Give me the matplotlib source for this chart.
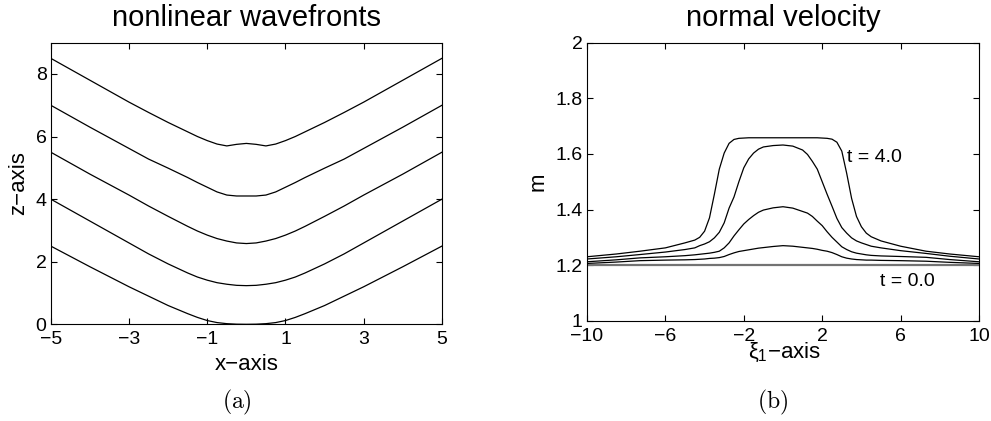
import matplotlib
matplotlib.use("Agg")
import matplotlib.pyplot as plt

plt.rcParams.update({
    "font.family": ["Liberation Sans", "DejaVu Sans"],
    "font.size": 14,
    "mathtext.fontset": "custom",
    "mathtext.rm": "Liberation Sans",
    "mathtext.it": "Liberation Sans",
    "axes.linewidth": 0.8,
    "xtick.direction": "in",
    "ytick.direction": "in",
    "xtick.top": True,
    "ytick.right": True,
    "xtick.major.size": 4,
    "ytick.major.size": 4,
    "xtick.major.width": 0.8,
    "ytick.major.width": 0.8,
})

# ---------- (a) nonlinear wavefronts ----------
x_front = [-5, -4, -3, -2.5, -2, -1.5, -1.25, -1, -0.75, -0.5, -0.25, 0,
           0.25, 0.5, 0.75, 1, 1.25, 1.5, 2, 2.5, 3, 4, 5]
front_1 = [2.5, 1.84, 1.2, 0.9, 0.6, 0.34, 0.22, 0.12, 0.055, 0.02, 0.004, 0.0,
           0.004, 0.02, 0.055, 0.12, 0.22, 0.34, 0.6, 0.9, 1.2, 1.84, 2.5]
front_2 = [4.0, 3.3, 2.6, 2.25, 1.93, 1.64, 1.51, 1.41, 1.33, 1.28, 1.245, 1.235,
           1.245, 1.28, 1.33, 1.41, 1.51, 1.64, 1.93, 2.25, 2.6, 3.3, 4.0]
front_3 = [5.5, 4.8, 4.13, 3.78, 3.45, 3.13, 2.98, 2.85, 2.74, 2.66, 2.6, 2.58,
           2.6, 2.66, 2.74, 2.85, 2.98, 3.13, 3.45, 3.78, 4.13, 4.8, 5.5]
front_4 = [7.0, 6.3, 5.62, 5.28, 4.99, 4.69, 4.53, 4.38, 4.23, 4.13, 4.1, 4.1,
           4.1, 4.13, 4.23, 4.38, 4.53, 4.69, 4.99, 5.28, 5.62, 6.3, 7.0]
front_5 = [8.5, 7.8, 7.1, 6.77, 6.45, 6.15, 6.0, 5.87, 5.76, 5.70, 5.75, 5.78,
           5.75, 5.70, 5.76, 5.87, 6.0, 6.15, 6.45, 6.77, 7.1, 7.8, 8.5]
fronts = [front_1, front_2, front_3, front_4, front_5]

# ---------- (b) normal velocity ----------
xi = [-10, -8.5, -7.3, -6, -5, -4.5, -4.25, -4, -3.75, -3.5, -3.25, -3,
      -2.75, -2.5, -2.25, -2, -1.75, -1.5, -1.25, -1, -0.5, 0, 0.5, 1,
      1.25, 1.5, 1.75, 2, 2.25, 2.5, 2.75, 3, 3.25, 3.5, 3.75, 4, 4.25,
      4.5, 5, 6, 7.3, 8.5, 10]
m_t0 = [1.2] * len(xi)
m_t1 = [1.206, 1.211, 1.216, 1.218, 1.219, 1.22, 1.221, 1.222, 1.224, 1.225,
        1.227, 1.231, 1.238, 1.244, 1.249, 1.252, 1.255, 1.258, 1.261, 1.263,
        1.267, 1.27, 1.268, 1.264, 1.262, 1.26, 1.257, 1.253, 1.25, 1.245,
        1.238, 1.23, 1.225, 1.222, 1.22, 1.219, 1.218, 1.218, 1.217, 1.216,
        1.214, 1.21, 1.206]
m_t2 = [1.212, 1.219, 1.226, 1.23, 1.234, 1.237, 1.239, 1.241, 1.243, 1.246,
        1.25, 1.262, 1.28, 1.305, 1.327, 1.348, 1.364, 1.378, 1.39, 1.398,
        1.406, 1.41, 1.405, 1.393, 1.387, 1.375, 1.358, 1.342, 1.32, 1.3,
        1.283, 1.266, 1.256, 1.248, 1.243, 1.24, 1.237, 1.235, 1.233, 1.231,
        1.228, 1.22, 1.212]
m_t3 = [1.222, 1.23, 1.238, 1.247, 1.256, 1.262, 1.27, 1.276, 1.284, 1.298,
        1.318, 1.352, 1.405, 1.445, 1.5, 1.55, 1.582, 1.603, 1.617, 1.625,
        1.63, 1.632, 1.628, 1.614, 1.598, 1.573, 1.545, 1.5, 1.455, 1.412,
        1.368, 1.335, 1.315, 1.298, 1.287, 1.28, 1.274, 1.268, 1.262, 1.252,
        1.242, 1.232, 1.222]
m_t4 = [1.23, 1.24, 1.25, 1.262, 1.28, 1.29, 1.3, 1.322, 1.37, 1.455,
        1.545, 1.603, 1.638, 1.652, 1.656, 1.657, 1.658, 1.658, 1.658, 1.658,
        1.658, 1.658, 1.658, 1.658, 1.658, 1.658, 1.658, 1.657, 1.656, 1.653,
        1.642, 1.61, 1.53, 1.44, 1.375, 1.338, 1.315, 1.302, 1.287, 1.268,
        1.25, 1.24, 1.23]
velocities = [m_t1, m_t2, m_t3, m_t4]

fig = plt.figure(figsize=(9.91, 4.21), dpi=100)
ax1 = fig.add_axes([0.0512, 0.2297, 0.3948, 0.669])
ax2 = fig.add_axes([0.5923, 0.2382, 0.3956, 0.6604])

for z in fronts:
    ax1.plot(x_front, z, color="black", lw=0.9)
ax1.set_xlim(-5, 5)
ax1.set_ylim(0, 9)
ax1.set_xticks([-5, -3, -1, 1, 3, 5])
ax1.set_yticks([0, 2, 4, 6, 8])
ax1.tick_params(axis="x", pad=5)
ax1.tick_params(axis="y", pad=3)
ax1.set_title("nonlinear wavefronts", fontsize=21, pad=12)
ax1.set_xlabel("x\u2212axis", fontsize=16, va="baseline")
ax1.xaxis.set_label_coords(0.5, -0.162)
ax1.set_ylabel("z\u2212axis", fontsize=16, va="center")
ax1.yaxis.set_label_coords(-0.083, 0.5)

ax2.plot(xi, m_t0, color="0.45", lw=1.6)
for m in velocities:
    ax2.plot(xi, m, color="black", lw=0.9)
ax2.set_xlim(-10, 10)
ax2.set_ylim(1, 2)
ax2.set_xticks([-10, -6, -2, 2, 6, 10])
ax2.set_yticks([1, 1.2, 1.4, 1.6, 1.8, 2])
ax2.set_yticklabels(["1", "1.2", "1.4", "1.6", "1.8", "2"])
ax2.tick_params(axis="x", pad=5)
ax2.tick_params(axis="y", pad=3)
ax2.set_title("normal velocity", fontsize=21, pad=12)
ax2.set_xlabel(r"$\xi_1$" + "\u2212axis", fontsize=16, va="baseline")
ax2.xaxis.set_label_coords(0.505, -0.134)
ax2.set_ylabel("m", fontsize=16, va="center")
ax2.yaxis.set_label_coords(-0.125, 0.5)
ax2.text(3.25, 1.571, "t = 4.0", fontsize=14, ha="left", va="baseline")
ax2.text(4.95, 1.125, "t = 0.0", fontsize=14, ha="left", va="baseline")

fig.text(0.239, 0.045, r"$\mathrm{(a)}$", fontsize=17, ha="center",
         va="center", math_fontfamily="cm")
fig.text(0.780, 0.045, r"$\mathrm{(b)}$", fontsize=17, ha="center",
         va="center", math_fontfamily="cm")

fig.savefig("out.png", dpi=100)
